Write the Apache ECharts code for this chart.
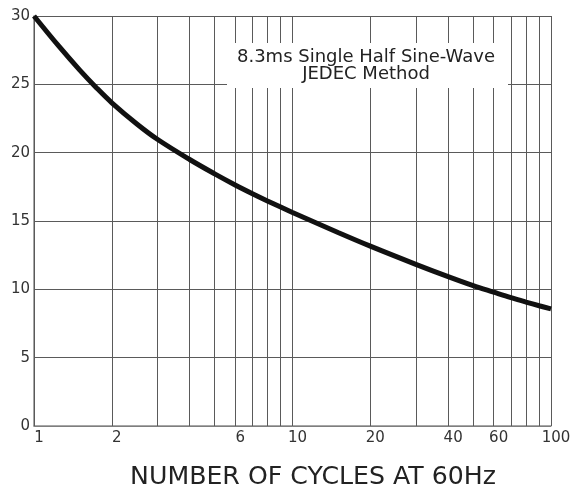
<!DOCTYPE html>
<html>
<head>
<meta charset="utf-8">
<script src="https://cdn.jsdelivr.net/npm/echarts@6/dist/echarts.min.js"></script>
<style>html,body{margin:0;padding:0;background:#fff;}#c{width:581px;height:495px;}</style>
</head>
<body>
<div id="c"></div>
<script>
const cyclesX = [1, 1.25, 1.5, 1.75, 2, 2.5, 3, 4, 5, 6, 7, 8, 9, 10, 15, 20, 30, 40, 50, 60, 70, 80, 90, 100];
const currentY = [30, 27.77, 26.06, 24.72, 23.65, 22.1, 20.98, 19.5, 18.45, 17.64, 17.0, 16.47, 16.02, 15.62, 14.16, 13.16, 11.83, 10.93, 10.27, 9.79, 9.39, 9.07, 8.8, 8.57];
const gridX = [1, 2, 3, 4, 5, 6, 7, 8, 9, 10, 20, 30, 40, 50, 60, 70, 80, 90, 100];
const labelX = [1, 2, 6, 10, 20, 40, 60, 100];
const yTicks = [0, 5, 10, 15, 20, 25, 30];
const noteLines = ['8.3ms Single Half Sine-Wave', 'JEDEC Method'];
const xTitle = 'NUMBER OF CYCLES AT 60Hz';

const chart = echarts.init(document.getElementById('c'));
const markData = gridX.map(v => ({
  xAxis: v,
  label: { show: labelX.indexOf(v) >= 0, formatter: String(v) }
}));

chart.setOption({
  animation: false,
  backgroundColor: '#fff',
  grid: { left: 34, right: 30, top: 16, bottom: 69, containLabel: false },
  xAxis: {
    type: 'log', logBase: 10, min: 1, max: 100,
    axisLine: { show: true, lineStyle: { color: '#8a8a8a', width: 1.5 } },
    axisTick: { show: false },
    axisLabel: { show: false },
    splitLine: { show: false },
    minorTick: { show: false },
    minorSplitLine: { show: false }
  },
  yAxis: {
    type: 'value', min: 0, max: 30, interval: 5,
    axisLine: { show: true, lineStyle: { color: '#8a8a8a', width: 1.5 } },
    axisTick: { show: false },
    axisLabel: {
      margin: 4, color: '#333', fontFamily: 'DejaVu Sans', fontSize: 15,
      formatter: v => (yTicks.indexOf(v) >= 0 ? String(v) : '')
    },
    splitLine: { show: true, lineStyle: { color: '#5a5a5a', width: 1 } }
  },
  series: [{
    type: 'line',
    data: cyclesX.map((x, i) => [x, currentY[i]]),
    smooth: 0.35,
    showSymbol: false,
    symbol: 'none',
    clip: false,
    z: 10,
    lineStyle: { color: '#111', width: 5 },
    markLine: {
      silent: true,
      symbol: 'none',
      animation: false,
      lineStyle: { type: 'solid', color: '#5a5a5a', width: 1 },
      label: {
        position: 'start', distance: 5, color: '#333',
        fontFamily: 'DejaVu Sans', fontSize: 15, offset: [5, 0]
      },
      emphasis: { disabled: true },
      data: markData
    }
  }],
  graphic: [
    { type: 'rect', z: 100, shape: { x: 227, y: 43, width: 281, height: 45 }, style: { fill: '#fff' } },
    { type: 'text', z: 101, x: 366, y: 57, style: { text: noteLines[0], fill: '#222', font: '18px "DejaVu Sans"', textAlign: 'center', textVerticalAlign: 'middle' } },
    { type: 'text', z: 101, x: 366, y: 74, style: { text: noteLines[1], fill: '#222', font: '18px "DejaVu Sans"', textAlign: 'center', textVerticalAlign: 'middle' } },
    { type: 'text', z: 101, x: 313, y: 478, scaleX: 1.05, style: { text: xTitle, fill: '#222', font: '24px "DejaVu Sans"', textAlign: 'center', textVerticalAlign: 'middle' } }
  ]
});
</script>
</body>
</html>
